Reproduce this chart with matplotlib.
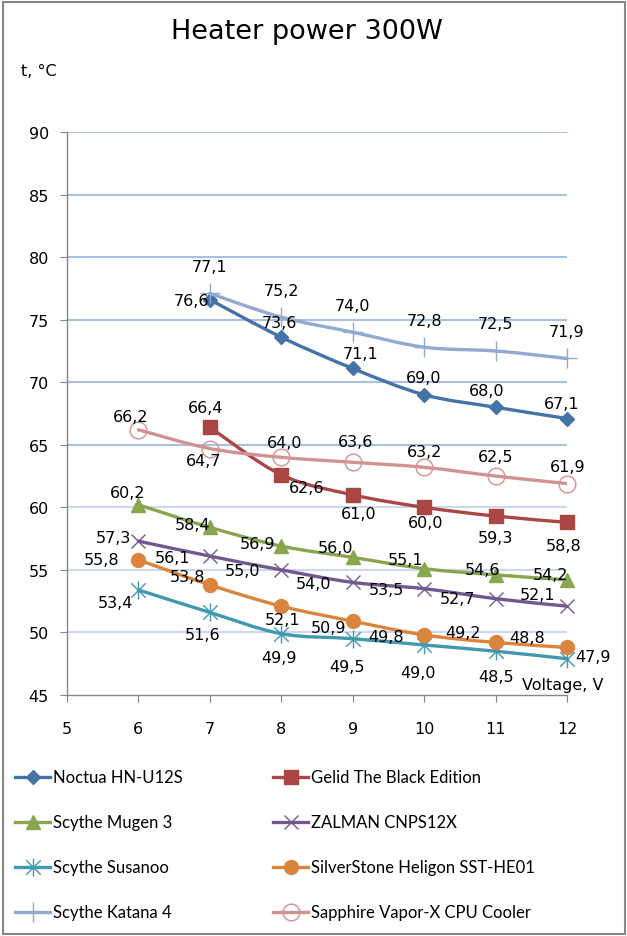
import matplotlib
matplotlib.use('Agg')
import matplotlib.pyplot as plt
from matplotlib.path import Path
from matplotlib.patches import PathPatch, Rectangle
from matplotlib.lines import Line2D

# データ（電圧 V / 温度 °C）
volt_6 = [6, 7, 8, 9, 10, 11, 12]
volt_7 = [7, 8, 9, 10, 11, 12]

noctua = [76.6, 73.6, 71.1, 69.0, 68.0, 67.1]
gelid = [66.4, 62.6, 61.0, 60.0, 59.3, 58.8]
mugen = [60.2, 58.4, 56.9, 56.0, 55.1, 54.6, 54.2]
zalman = [57.3, 56.1, 55.0, 54.0, 53.5, 52.7, 52.1]
susanoo = [53.4, 51.6, 49.9, 49.5, 49.0, 48.5, 47.9]
silverstone = [55.8, 53.8, 52.1, 50.9, 49.8, 49.2, 48.8]
katana = [77.1, 75.2, 74.0, 72.8, 72.5, 71.9]
sapphire = [66.2, 64.7, 64.0, 63.6, 63.2, 62.5, 61.9]

names = ["Noctua HN-U12S", "Gelid The Black Edition", "Scythe Mugen 3",
         "ZALMAN CNPS12X", "Scythe Susanoo", "SilverStone Heligon SST-HE01",
         "Scythe Katana 4", "Sapphire Vapor-X CPU Cooler"]

# Excel風のスター型マーカー（縦線＋X）
star = Path([(0, -1), (0, 1), (-0.8, -0.8), (0.8, 0.8), (-0.8, 0.8), (0.8, -0.8)],
            [Path.MOVETO, Path.LINETO] * 3)

# ラベル位置（ピクセル単位のオフセット）
lbl_off = {
    0: [(-18, -1), (-2, 15), (8, 15), (-1, 17), (-9, 17), (-5, 15)],
    1: [(-4, 20), (25, -13), (6, -19), (1, -15), (0, -21), (-3, -23)],
    2: [(-11, 12), (-17, 3), (-24, 3), (-17, 10), (-19, 9), (-13, 5), (-17, 5)],
    3: [(-25, 4), (-37, -1), (-39, -1), (-39, -1), (-38, -1), (-38, 0), (-29, 12)],
    4: [(-23, -13), (-7, -22), (-2, -24), (-6, -28), (-6, -28), (0, -25), (26, 2)],
    5: [(-37, 0), (-22, 8), (1, -13), (-24, -6), (-38, -2), (-33, 10), (-40, 10)],
    6: [(0, 27)] * 6,
    7: [(-8, 13), (-6, -12), (3, 15), (3, 21), (0, 16), (0, 20), (1, 17)],
}

series = [
    (volt_7, noctua, "#4572A7", dict(marker="D", ms=7.5)),
    (volt_7, gelid, "#AA4643", dict(marker="s", ms=10)),
    (volt_6, mugen, "#89A54E", dict(marker="^", ms=10)),
    (volt_6, zalman, "#71588F", dict(marker="x", ms=10, mew=1)),
    (volt_6, susanoo, "#4198AF", dict(marker=star, ms=13, mew=1, mfc="none")),
    (volt_6, silverstone, "#DB843D", dict(marker="o", ms=10)),
    (volt_7, katana, "#93A9CF", dict(marker="+", ms=15, mew=1)),
    (volt_6, sapphire, "#D19392", dict(marker="o", ms=12, mew=1, mfc="none")),
]


def smooth_path(xs, ys):
    """Catmull-Rom -> Bezier（Excelの平滑線の代わり）"""
    pts = list(zip(xs, ys))
    verts = [pts[0]]
    codes = [Path.MOVETO]
    n = len(pts)
    for i in range(n - 1):
        p0 = pts[i - 1] if i > 0 else pts[i]
        p1 = pts[i]
        p2 = pts[i + 1]
        p3 = pts[i + 2] if i + 2 < n else pts[i + 1]
        c1 = (p1[0] + (p2[0] - p0[0]) / 6, p1[1] + (p2[1] - p0[1]) / 6)
        c2 = (p2[0] - (p3[0] - p1[0]) / 6, p2[1] - (p3[1] - p1[1]) / 6)
        verts += [c1, c2, p2]
        codes += [Path.CURVE4] * 3
    return Path(verts, codes)


W, H = 627, 937
fig = plt.figure(figsize=(W / 100, H / 100), dpi=100)
ax = fig.add_axes([67 / W, 1 - 696 / H, 500 / W, 563 / H])

ax.set_xlim(5, 12)
ax.set_ylim(45, 90)
ax.set_xticks(range(5, 13))
ax.set_yticks(range(45, 91, 5))

for v in range(50, 91, 5):
    ax.axhline(v, color="#A8C0E6" if v >= 65 else "#CBD8EE", lw=1.5, zorder=0)

for s in ["top", "right"]:
    ax.spines[s].set_visible(False)
for s in ["left", "bottom"]:
    ax.spines[s].set_color("#868686")
    ax.spines[s].set_linewidth(1)

ax.tick_params(axis="y", direction="out", length=5, color="#868686",
               labelsize=11.5, pad=8)
ax.tick_params(axis="x", direction="out", length=5, color="#868686",
               labelsize=11.5, pad=14)

for i, (xs, ys, col, mk) in enumerate(series):
    ax.add_patch(PathPatch(smooth_path(xs, ys), fc="none", ec=col, lw=2.4,
                           zorder=2 + i, capstyle="round", joinstyle="round"))
    ax.plot(xs, ys, ls="none", color=col, mec=col, zorder=2 + i,
            clip_on=False, **mk)

for i, (xs, ys, col, mk) in enumerate(series):
    for x, y, (dx, dy) in zip(xs, ys, lbl_off[i]):
        ax.annotate(f"{y:.1f}".replace(".", ","), (x, y), xytext=(dx, dy),
                    textcoords="offset pixels", ha="center", va="center",
                    fontsize=11.5, color="black", zorder=20)

ax.set_xlabel("Voltage, V", fontsize=11.5)
ax.xaxis.set_label_coords(496 / 500, 18 / 563)
ax.set_ylabel("t, °C", fontsize=11.5, rotation=0, ha="center", va="center")
ax.yaxis.set_label_coords(-28 / 500, 624 / 563)

fig.text(307 / W, 1 - 32 / H, "Heater power 300W", fontsize=19.5,
         ha="center", va="center")

# 凡例（手動配置）
rows = [778, 823, 868, 913]
order = [0, 2, 4, 6, 1, 3, 5, 7]
for k, i in enumerate(order):
    xs, ys, col, mk = series[i]
    col_x = 15 if k < 4 else 273
    y = 1 - rows[k % 4] / H
    x0, x1 = col_x / W, (col_x + 35) / W
    fig.add_artist(Line2D([x0, (x0 + x1) / 2, x1], [y, y, y], color=col, lw=2.4,
                          markevery=[1], mec=col, transform=fig.transFigure, **mk))
    fig.text((col_x + 38) / W, y, names[i], fontsize=12, family="Lato",
             ha="left", va="center")

fig.add_artist(Rectangle((2.5 / W, 2.5 / H), 622.5 / W, 932 / H, fill=False,
                         ec="#878787", lw=1.5, transform=fig.transFigure))

fig.savefig("out.png", dpi=100)
